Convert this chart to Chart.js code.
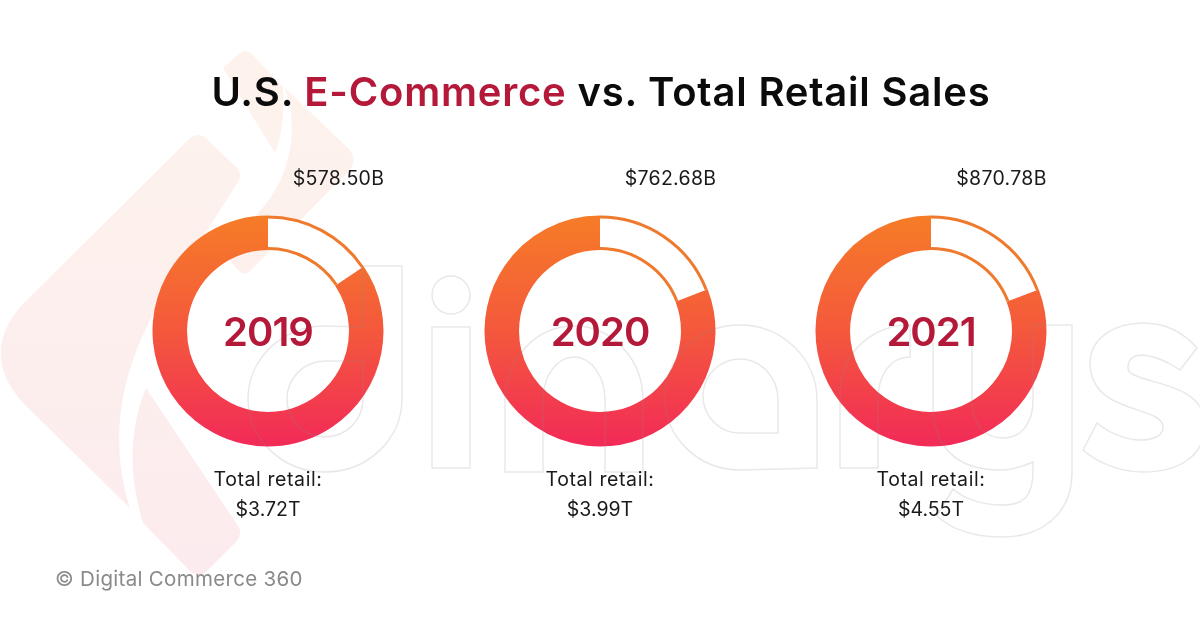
<!DOCTYPE html>
<html>
<head>
<meta charset="utf-8">
<script src="https://cdn.jsdelivr.net/npm/chart.js@4"></script>
<style>
  html, body { margin: 0; background: #fff; }
  #page { position: relative; width: 1200px; height: 625px; overflow: hidden; font-family: Inter, sans-serif; color: #1a1a1a; }
  svg.layer { position: absolute; left: 0; top: 0; }
  canvas { position: absolute; }
  .txt { position: absolute; transform: translate(-50%, -50%); white-space: nowrap; }
  .title { left: 601px; top: 91px; font-size: 40px; font-weight: 600; color: #0b0b0b; letter-spacing: 0.8px; }
  .title span { color: #b5193a; }
  .eco { font-size: 19.5px; letter-spacing: 0.3px; }
  .year { font-size: 40px; font-weight: 600; color: #b5193a; letter-spacing: -1px; }
  .total { font-size: 19.5px; letter-spacing: 0.6px; }
  .value { font-size: 19.5px; }
  #credit { position: absolute; left: 55px; top: 566px; font-size: 20.5px; color: #8a8a8a; letter-spacing: 0.3px; }
</style>
</head>
<body>
<div id="page">
  <svg class="layer" width="1200" height="625" style="z-index:0">
    <defs>
      <linearGradient id="wash" x1="0" y1="50" x2="0" y2="575" gradientUnits="userSpaceOnUse">
        <stop offset="0" stop-color="#fdf3ec"/>
        <stop offset="1" stop-color="#fcebee"/>
      </linearGradient>
    </defs>
    <g fill="url(#wash)">
      <path d="M189,139 Q198,131 207,139 L237,168 Q243,174 238,182 L150,320 C122,375 108,440 130,508 L23,403 Q-20,355 20,307 Z"/>
      <path d="M146,388 L238,526 Q243,534 237,541 L206,572 Q198,578 190,571 L143,523 C130,480 127,435 146,388 Z"/>
      <path d="M223,68 L240,53 Q245,49 251,53 L283,87 C284,105 284,130 275,153 Z"/>
      <path d="M285,88 L350,150 Q358,162 347,173 L251,270 Q245,277 238,270 L223,253 L258,213 C290,180 300,130 285,88 Z"/>
    </g>
  </svg>

  <canvas id="donut0" width="240" height="240"></canvas>
  <canvas id="donut1" width="240" height="240"></canvas>
  <canvas id="donut2" width="240" height="240"></canvas>

  <svg class="layer" width="1200" height="625" style="z-index:1" fill="none" stroke="#8c8c8c" stroke-opacity="0.2" stroke-width="1.5">
    <!-- outlined logo lettering behind the chart -->
    <path d="M363,266 H402 V399 A77,73 0 1 1 325,326 C340,326 352,327 363,327 Z"/>
    <path d="M363,361 V399 A38,38 0 1 1 325,361 Z"/>
    <circle cx="451" cy="295" r="19"/>
    <path d="M432,327 H470 V468 H432 Z"/>
    <path d="M505,472 V400 A69,74 0 0 1 643,400 V472 H605 V400 A31,43 0 0 0 543,400 V472 Z"/>
    <path d="M817,468 V400 A77,75 0 0 0 740,325 A75,72 0 0 0 665,398 A75,72 0 0 0 740,470 Z"/>
    <path d="M778,433 V400 A38,41 0 0 0 740,359 A37,37 0 0 0 703,396 A37,37 0 0 0 740,433 Z"/>
    <path d="M840,468 V395 C840,350 875,325 910,325 V357 C890,357 878,375 878,400 V468 Z"/>
    <path d="M1072,325 V473 C1072,515 1040,537 1003,537 C975,537 952,530 937,516 L953,489 C965,500 985,505 1003,505 C1025,505 1033,495 1033,470 V462 C1022,467 1010,470 1000,470 C960,470 933,450 933,405 V325 H972 V400 C972,425 985,438 1003,438 C1020,438 1033,425 1033,400 V325 Z"/>
    <path d="M1197,348 L1180,370 C1165,360 1155,356 1143,355 C1133,355 1128,360 1128,368 C1128,385 1205,378 1205,425 C1205,455 1180,472 1143,472 C1120,472 1098,463 1083,450 L1097,423 C1110,434 1128,440 1140,440 C1155,440 1163,435 1163,427 C1163,405 1090,415 1090,363 C1090,338 1115,323 1143,323 C1165,323 1183,332 1197,348 Z"/>
  </svg>

  <div id="labels" style="position:absolute;left:0;top:0;z-index:2">
    <div class="txt title">U.S. <span>E-Commerce</span> vs. Total Retail Sales</div>
  </div>
  <div id="credit" style="z-index:2">© Digital Commerce 360</div>
</div>

<script>
// values
let years = ['2019', '2020', '2021'];
let ecommerceSales = [578.50, 762.68, 870.78]; // billions
let totalRetail = [3.72, 3.99, 4.55];          // trillions
let centers = [268, 600, 931];

function ringGradient(chart) {
  let ctx = chart.ctx;
  let mid = chart.height / 2;
  let g = ctx.createLinearGradient(0, mid - 115.5, 0, mid + 115.5);
  g.addColorStop(0, '#f67c27');
  g.addColorStop(0.5, '#f4583c');
  g.addColorStop(1, '#f22a58');
  return g;
}

// the white slice only has an outline along its two arcs, not on the radial ends
let sliceOutline = {
  id: 'sliceOutline',
  afterDatasetsDraw(chart) {
    let arc = chart.getDatasetMeta(0).data[0];
    let p = arc.getProps(['x', 'y', 'startAngle', 'endAngle', 'innerRadius', 'outerRadius'], true);
    let ctx = chart.ctx;
    ctx.save();
    ctx.strokeStyle = '#ef7a2e';
    ctx.lineWidth = 3;
    ctx.beginPath();
    ctx.arc(p.x, p.y, p.outerRadius - 1.5, p.startAngle, p.endAngle);
    ctx.stroke();
    ctx.beginPath();
    ctx.arc(p.x, p.y, p.innerRadius + 1.5, p.startAngle, p.endAngle);
    ctx.stroke();
    ctx.restore();
  }
};

function createChart(i) {
  let canvas = document.getElementById('donut' + i);
  canvas.style.left = (centers[i] - 120) + 'px';
  canvas.style.top = (331 - 120) + 'px';

  new Chart(canvas.getContext('2d'), {
    type: 'doughnut',
    data: {
      labels: ['E-Commerce', 'Other retail'],
      datasets: [{
        data: [ecommerceSales[i], totalRetail[i] * 1000 - ecommerceSales[i]],
        backgroundColor: function(c) {
          return c.dataIndex === 0 ? '#ffffff' : ringGradient(c.chart);
        },
        borderWidth: 0
      }]
    },
    options: {
      responsive: false,
      animation: false,
      radius: 115.5,
      cutout: '70.1%',
      plugins: { legend: { display: false }, tooltip: { enabled: false } },
      events: []
    },
    plugins: [sliceOutline]
  });
}

function addText(cls, x, y, text) {
  let el = document.createElement('div');
  el.className = 'txt ' + cls;
  el.style.left = x + 'px';
  el.style.top = y + 'px';
  el.textContent = text;
  document.getElementById('labels').appendChild(el);
}

for (let i = 0; i < years.length; i++) {
  createChart(i);
  addText('eco', centers[i] + 70.5, 178, '$' + ecommerceSales[i].toFixed(2) + 'B');
  addText('year', centers[i], 331, years[i]);
  addText('total', centers[i], 479, 'Total retail:');
  addText('value', centers[i], 509, '$' + totalRetail[i].toFixed(2) + 'T');
}
</script>
</body>
</html>
